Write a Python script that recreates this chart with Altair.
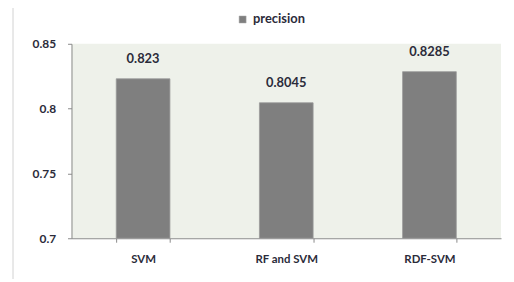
import altair as alt
import pandas as pd

categories = ["SVM", "RF and SVM", "RDF-SVM"]
values = [0.823, 0.8045, 0.8285]
labels = ["0.823", "0.8045", "0.8285"]
series = ["precision", "precision", "precision"]

df = pd.DataFrame({"model": categories, "value": values, "label": labels, "series": series})

FONT = "Lato"
TXT = "#2b2b3a"

x = alt.X("model:N", sort=categories, title=None,
          scale=alt.Scale(paddingInner=0.625, paddingOuter=0.3125),
          axis=alt.Axis(tickBand="extent", labelAngle=0, labelFont=FONT, labelFontWeight="bold",
                        labelFontSize=11.5, labelColor=TXT, labelPadding=11, domainColor="#8a8a8a",
                        tickColor="#8a8a8a", tickSize=4))
y = alt.Y("value:Q", title=None,
          scale=alt.Scale(domain=[0.7, 0.85], nice=False, zero=False),
          axis=alt.Axis(values=[0.7, 0.75, 0.8, 0.85], grid=False, labelFont=FONT,
                        labelFontWeight="bold", labelFontSize=12, labelColor=TXT,
                        labelPadding=12, domainColor="#8a8a8a", tickColor="#8a8a8a", tickSize=4,
                        labelExpr="datum.value == 0.7 ? '0.7' : datum.value == 0.8 ? '0.8' : datum.label"))

base = alt.Chart(df).encode(x=x)

bars = base.mark_bar(stroke="#9a9a9a", strokeWidth=0.8).encode(
    y=y, y2=alt.datum(0.7),
    color=alt.Color("series:N", title=None,
                    scale=alt.Scale(domain=["precision"], range=["#7f7f7f"]),
                    legend=alt.Legend(orient="none", legendX=166, legendY=-31, direction="horizontal",
                                      symbolType="square", symbolSize=50, labelFont=FONT,
                                      labelFontWeight="bold", labelFontSize=13, labelColor=TXT,
                                      symbolStrokeColor="#aaaaaa", symbolStrokeWidth=0.5,
                                      labelOffset=4)),
)

text = base.mark_text(dy=-20, font=FONT, fontWeight="bold", fontSize=13, color=TXT,
                      baseline="middle").encode(y="value:Q", text="label:N")

edge = alt.Chart(df).mark_rule(color="#e6e6e6", strokeWidth=1).encode(
    x=alt.value(-59), y=alt.value(-43), y2=alt.value(240))

chart = alt.layer(bars, text, edge).properties(
    width=433, height=196,
    autosize=alt.AutoSizeParams(type="none"),
    padding={"left": 64, "top": 35, "right": 5, "bottom": 40},
).configure_view(fill="#eef1ea", stroke=None)

chart.save("out.html", embed_options={"renderer": "svg", "actions": False})
